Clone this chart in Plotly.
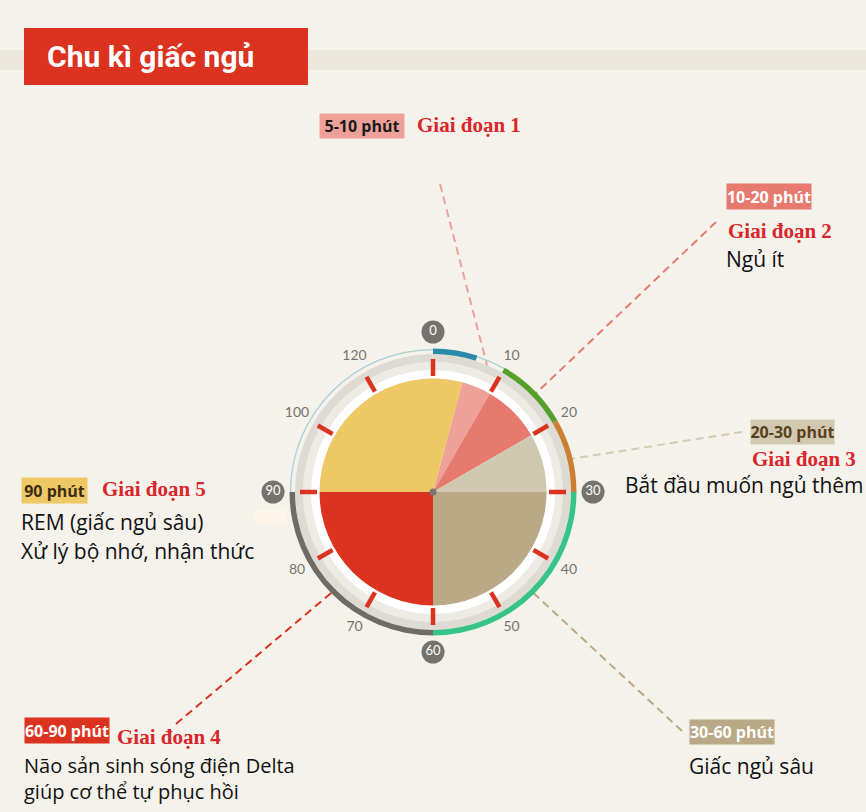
import plotly.graph_objects as go

# 120-minute dial, values in minutes
slice_start = [5, 10, 20, 30, 60, 90]
slice_end = [10, 20, 30, 60, 90, 125]
slice_colors = ["#eea199", "#e77a6e", "#d0c8b0", "#b9a986", "#dc3220", "#efc866"]

arc_start = [0, 10, 20, 30, 60]
arc_end = [6, 20, 30, 60, 90]
arc_colors = ["#2a8aaa", "#55a02a", "#cc8033", "#36c488", "#6f6c66"]

thin_start = [6, 90]
thin_end = [10, 120]

tick_minutes = [0, 10, 20, 30, 40, 50, 60, 70, 80, 90, 100, 110]
label_minutes = [10, 20, 40, 50, 70, 80, 100, 110]
label_texts = ["10", "20", "40", "50", "70", "80", "100", "120"]
badge_minutes = [0, 30, 60, 90]
badge_texts = ["0", "30", "60", "90"]

title = "Chu kì giấc ngủ"
stage_times = ["5-10 phút", "10-20 phút", "20-30 phút", "30-60 phút", "60-90 phút", "90 phút"]
stage_names = ["Giai đoạn 1", "Giai đoạn 2", "Giai đoạn 3", "", "Giai đoạn 4", "Giai đoạn 5"]
stage_desc = [
    [],
    ["Ngủ ít"],
    ["Bắt đầu muốn ngủ thêm"],
    ["Giấc ngủ sâu"],
    ["Não sản sinh sóng điện Delta<br>giúp cơ thể tự phục hồi"],
    ["REM (giấc ngủ sâu)", "Xử lý bộ nhớ, nhận thức"],
]
badge_bg = ["#eea199", "#e77a6e", "#d0c8b0", "#b9a986", "#dc3220", "#efc866"]
badge_fg = ["#1a1a1a", "#ffffff", "#5b3f1e", "#ffffff", "#ffffff", "#3b2c12"]

W, H = 866, 812
CX, CY, RPX = 433, 492, 180
DEG = 360 / 120
BG = "#f5f2eb"
RED = "#dc3220"
SANS = "Open Sans, Noto Sans, sans-serif"
SERIF = "Liberation Serif, DejaVu Serif, serif"


def px(x):
    return x / W


def py(y):
    return 1 - y / H


fig = go.Figure()

# dial bands (inner, outer radius in px)
band_in = [113.5, 122, 130]
band_out = [122, 130, 138]
band_col = ["#ffffff", "#eeebe4", "#dedbd4"]
for i in range(3):
    fig.add_trace(go.Barpolar(theta=[90, 270], width=[180, 180],
                              base=[band_in[i]] * 2, r=[band_out[i] - band_in[i]] * 2,
                              marker_color=band_col[i], marker_line_width=0,
                              hoverinfo="skip"))

# pie slices
fig.add_trace(go.Barpolar(
    theta=[(s + e) / 2 * DEG for s, e in zip(slice_start, slice_end)],
    width=[(e - s) * DEG for s, e in zip(slice_start, slice_end)],
    r=[113.5] * len(slice_start), base=[0] * len(slice_start),
    marker_color=slice_colors, marker_line_width=0, hoverinfo="skip"))

# thin outline on the uncoloured part of the outer ring
fig.add_trace(go.Barpolar(
    theta=[(s + e) / 2 * DEG for s, e in zip(thin_start, thin_end)],
    width=[(e - s) * DEG for s, e in zip(thin_start, thin_end)],
    r=[1.3] * len(thin_start), base=[141.8] * len(thin_start),
    marker_color="#a9cfd9", marker_line_width=0, hoverinfo="skip"))

# coloured outer arcs
fig.add_trace(go.Barpolar(
    theta=[(s + e) / 2 * DEG for s, e in zip(arc_start, arc_end)],
    width=[(e - s) * DEG for s, e in zip(arc_start, arc_end)],
    r=[5.5] * len(arc_start), base=[138] * len(arc_start),
    marker_color=arc_colors, marker_line_width=0, hoverinfo="skip"))

# red ticks
tr, tt = [], []
for m in tick_minutes:
    tr += [116, 133, None]
    tt += [m * DEG, m * DEG, None]
fig.add_trace(go.Scatterpolar(r=tr, theta=tt, mode="lines",
                              line=dict(color=RED, width=4.5), hoverinfo="skip"))

# minute labels
fig.add_trace(go.Scatterpolar(
    r=[157] * len(label_minutes), theta=[m * DEG for m in label_minutes],
    mode="text", text=label_texts,
    textfont=dict(family="Lato, sans-serif", size=14, color="#77736c"),
    hoverinfo="skip"))

# round badges
fig.add_trace(go.Scatterpolar(
    r=[160] * len(badge_minutes), theta=[m * DEG for m in badge_minutes],
    mode="markers+text", text=badge_texts, textposition="middle center",
    marker=dict(size=23, color="#77736c"),
    textfont=dict(family="Lato, sans-serif", size=13, color="#ffffff"),
    hoverinfo="skip"))

# centre dot
fig.add_trace(go.Scatterpolar(r=[0], theta=[0], mode="markers",
                              marker=dict(size=7, color="#7a7670"), hoverinfo="skip"))

shapes = [
    dict(type="rect", xref="paper", yref="paper", x0=0, x1=1, y0=py(70), y1=py(50),
         fillcolor="#ebe7df", line_width=0, layer="below"),
    dict(type="rect", xref="paper", yref="paper", x0=px(24), x1=px(308), y0=py(85), y1=py(28),
         fillcolor=RED, line_width=0),
    dict(type="rect", xref="paper", yref="paper", x0=px(254), x1=px(286), y0=py(523), y1=py(510),
         fillcolor="#fdf5ea", line_width=0, layer="below"),
]

# dashed leader lines: (x0, y0, x1, y1) in px
leaders = [(440, 184, 488, 369), (716, 222, 530, 399), (742, 432, 564, 460),
           (682, 731, 527, 587), (176, 724, 337, 588)]
leader_cols = ["#eea199", "#e77a6e", "#d3cbb4", "#b9a986", RED]
for (x0, y0, x1, y1), c in zip(leaders, leader_cols):
    shapes.append(dict(type="line", xref="paper", yref="paper",
                       x0=px(x0), y0=py(y0), x1=px(x1), y1=py(y1),
                       line=dict(color=c, width=2, dash="8px,5px"), layer="below"))

annotations = [dict(text="<b>" + title + "</b>", x=px(45), y=py(57), xanchor="left",
                    yanchor="middle", showarrow=False,
                    font=dict(family="Liberation Sans Narrow, Roboto, sans-serif",
                              size=30, color="#ffffff"))]

# text positions per stage: badge box (x, y, w, h), name (x, y), description (x, y0, line step)
badge_pos = [(319, 113, 84, 24), (726, 183, 84, 25), (750, 419, 83, 24),
             (689, 719, 84, 24), (24, 717, 84, 25), (21, 477, 65, 25)]
name_pos = [(415, 125), (726, 231), (750, 459), (0, 0), (115, 737), (100, 489)]
desc_pos = [(0, 0), (724, 259), (623, 485), (687, 766), (22, 778), (19, 522)]
desc_step = [0, 0, 0, 0, 0, 29]
desc_size = [21, 21, 21, 21, 20, 21]

for i in range(len(stage_times)):
    bx, by, bw, bh = badge_pos[i]
    annotations.append(dict(text="<b>" + stage_times[i] + "</b>", x=px(bx), y=py(by),
                            xanchor="left", yanchor="top", showarrow=False,
                            width=bw, height=bh, align="center", valign="middle",
                            bgcolor=badge_bg[i], borderpad=0,
                            font=dict(family=SANS, size=16, color=badge_fg[i])))
    if stage_names[i]:
        nx, ny = name_pos[i]
        annotations.append(dict(text="<b>" + stage_names[i] + "</b>", x=px(nx), y=py(ny),
                                xanchor="left", yanchor="middle", showarrow=False,
                                font=dict(family=SERIF, size=21, color="#d9262a")))
    dx, dy = desc_pos[i]
    for j, line in enumerate(stage_desc[i]):
        annotations.append(dict(text=line, x=px(dx), y=py(dy + j * desc_step[i]),
                                xanchor="left", yanchor="middle", align="left",
                                showarrow=False,
                                font=dict(family=SANS, size=desc_size[i], color="#111111")))

fig.update_layout(
    width=W, height=H,
    margin=dict(l=0, r=0, t=0, b=0),
    paper_bgcolor=BG, plot_bgcolor=BG,
    showlegend=False,
    polar=dict(
        domain=dict(x=[px(CX - RPX), px(CX + RPX)], y=[py(CY + RPX), py(CY - RPX)]),
        bgcolor="rgba(0,0,0,0)", barmode="overlay", hole=0,
        radialaxis=dict(range=[0, RPX], visible=False),
        angularaxis=dict(visible=False, rotation=90, direction="clockwise"),
    ),
    shapes=shapes,
    annotations=annotations,
)

fig.write_html("out.html", config={"displayModeBar": False},
               post_script="document.body.style.margin='0';")
